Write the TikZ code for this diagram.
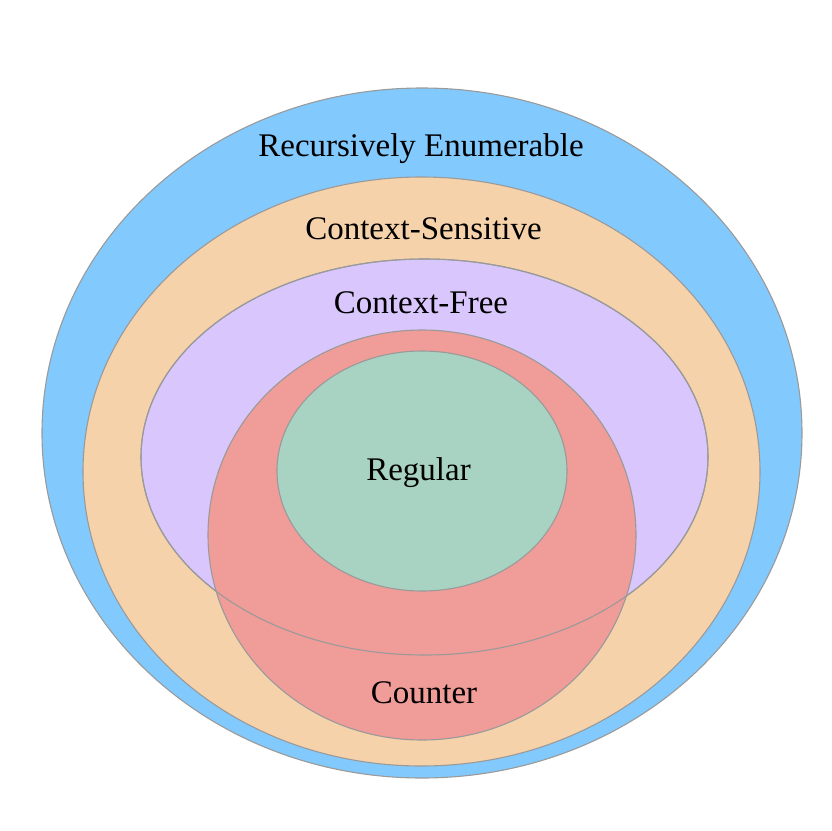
\documentclass[tikz,border=0pt]{standalone}
\usepackage{fontspec}
\setmainfont{Liberation Serif}
\usetikzlibrary{shapes.geometric}
\definecolor{reblue}{HTML}{82C9FE}
\definecolor{csorange}{HTML}{F5D2AA}
\definecolor{cfpurple}{HTML}{D9C6FD}
\definecolor{cntred}{HTML}{F09C98}
\definecolor{reggreen}{HTML}{A8D3C2}
\definecolor{rim}{HTML}{9A9A9A}
\begin{document}
\begin{tikzpicture}[x=1pt,y=-1pt,
  region/.style={ellipse, inner sep=0pt, draw=rim, line width=1.1pt},
  resize/.style={minimum width=760pt, minimum height=690pt},
  cssize/.style={minimum width=677pt, minimum height=589pt},
  cfsize/.style={minimum width=567pt, minimum height=396pt},
  cntsize/.style={minimum width=428pt, minimum height=410pt},
  regsize/.style={minimum width=290pt, minimum height=240pt},
  lbl/.style={anchor=base, inner sep=0pt, font=\fontsize{33}{38}\selectfont, text=black}]
\useasboundingbox (0,0) rectangle (831,831);
% class regions, outermost first
\node[region, resize,  fill=reblue]   (re)  at (422,433)     {};
\node[region, cssize,  fill=csorange] (cs)  at (421.5,471.5) {};
\node[region, cfsize,  fill=cfpurple] (cf)  at (424.5,457)   {};
\node[region, cntsize, fill=cntred]   (cnt) at (422,535)     {};
% the context-free border stays visible across the counter region
\node[region, cfsize] (cfrim) at (cf.center) {};
\node[region, regsize, fill=reggreen] (reg) at (422,471)     {};
% labels
\node[lbl] (relbl)  at (421,156) {Recursively Enumerable};
\node[lbl] (cslbl)  at (423.5,239) {Context-Sensitive};
\node[lbl] (cflbl)  at (421,313) {Context-Free};
\node[lbl] (reglbl) at (418.5,480) {Regular};
\node[lbl] (cntlbl) at (424,703) {Counter};
\end{tikzpicture}
\end{document}
